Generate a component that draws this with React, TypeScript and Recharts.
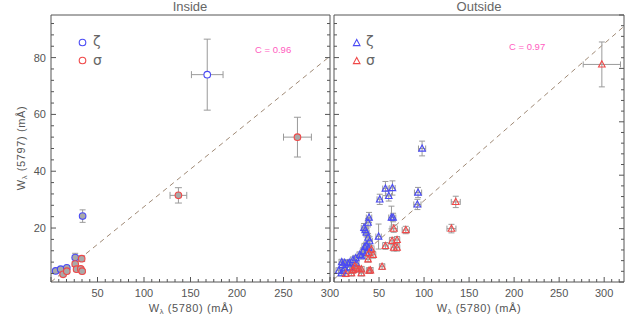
import React from 'react';
import { ScatterChart, Scatter, XAxis, YAxis, ErrorBar, ReferenceLine } from 'recharts';

const W = 637;
const H = 333;

// ---------- data ----------
const insideZeta = [
  { x: 5, y: 4.9, ex: 1, ey: 0.5 },
  { x: 10.4, y: 5.5, ex: 1, ey: 0.5 },
  { x: 17, y: 6.0, ex: 1, ey: 0.6 },
  { x: 26, y: 9.6, ex: 1.2, ey: 1.5 },
  { x: 34, y: 24.2, ex: 1.2, ey: 2.2 },
];
const insideZetaHollow = [{ x: 168, y: 74, ex: 17, ey: 12.5 }];
const insideSigma = [
  { x: 13, y: 3.7, ex: 1, ey: 0.5 },
  { x: 17, y: 4.8, ex: 1, ey: 0.5 },
  { x: 26, y: 7.3, ex: 1, ey: 0.8 },
  { x: 27.5, y: 5.5, ex: 1, ey: 0.6 },
  { x: 33, y: 9.2, ex: 1, ey: 1.0 },
  { x: 32, y: 5.6, ex: 1, ey: 0.6 },
  { x: 33.5, y: 4.8, ex: 1, ey: 0.5 },
  { x: 137, y: 31.5, ex: 9, ey: 2.7 },
  { x: 265, y: 52, ex: 15, ey: 7 },
];
const outsideZeta = [
  { x: 97.8, y: 48.0, ex: 4, ey: 2.6 },
  { x: 57.1, y: 33.9, ex: 3, ey: 2.5 },
  { x: 64.9, y: 34.1, ex: 3, ey: 2.5 },
  { x: 60.8, y: 31.3, ex: 3, ey: 1.8 },
  { x: 50.8, y: 30.1, ex: 3, ey: 1.8 },
  { x: 93.3, y: 32.5, ex: 4, ey: 1.8 },
  { x: 92.6, y: 28.3, ex: 4, ey: 1.8 },
  { x: 63.8, y: 23.7, ex: 3, ey: 4 },
  { x: 65.6, y: 23.7, ex: 3, ey: 1.5 },
  { x: 38.9, y: 23.7, ex: 3, ey: 1.8 },
  { x: 37.8, y: 21.9, ex: 3, ey: 1.5 },
  { x: 33.3, y: 20.1, ex: 3, ey: 1.5 },
  { x: 34.8, y: 19.3, ex: 3, ey: 1.5 },
  { x: 49.5, y: 17.0, ex: 3, ey: 4.4 },
  { x: 36, y: 18.4, ex: 3, ey: 1.5 },
  { x: 37.8, y: 16.6, ex: 3, ey: 1.5 },
  { x: 39.6, y: 15.4, ex: 3, ey: 1.5 },
  { x: 34.0, y: 13.4, ex: 3, ey: 1.2 },
  { x: 35.9, y: 13.9, ex: 3, ey: 1.2 },
  { x: 38.5, y: 13.0, ex: 3, ey: 1.2 },
  { x: 32.2, y: 11.8, ex: 3, ey: 1.2 },
  { x: 36, y: 11.3, ex: 3, ey: 1.2 },
  { x: 30.4, y: 10.1, ex: 3, ey: 1 },
  { x: 28.6, y: 10.6, ex: 3, ey: 1 },
  { x: 24.1, y: 9.4, ex: 3, ey: 1 },
  { x: 21.1, y: 8.8, ex: 3, ey: 1 },
  { x: 17.4, y: 7.8, ex: 3, ey: 1 },
  { x: 15.6, y: 7.6, ex: 3, ey: 1 },
  { x: 11.9, y: 7.8, ex: 3, ey: 1 },
  { x: 9.3, y: 7.0, ex: 3, ey: 1 },
  { x: 8.6, y: 8.0, ex: 3, ey: 1 },
  { x: 11.9, y: 5.9, ex: 3, ey: 1 },
  { x: 17.4, y: 6.2, ex: 3, ey: 1 },
  { x: 24.8, y: 7.6, ex: 3, ey: 1 },
  { x: 10, y: 4.9, ex: 3, ey: 1 },
  { x: 8.2, y: 4.1, ex: 3, ey: 1 },
  { x: 5.2, y: 5.0, ex: 3, ey: 1 },
];
const outsideSigma = [
  { x: 297.4, y: 77.6, ex: 20.7, ey: 7.9 },
  { x: 135.2, y: 29.2, ex: 5, ey: 2 },
  { x: 130.4, y: 19.8, ex: 5, ey: 1.5 },
  { x: 79.7, y: 19.3, ex: 4, ey: 1.3 },
  { x: 66.3, y: 19.8, ex: 4, ey: 1.3 },
  { x: 57.1, y: 13.7, ex: 3, ey: 1.2 },
  { x: 64.5, y: 15.5, ex: 3, ey: 1.2 },
  { x: 70.0, y: 15.8, ex: 3, ey: 1.2 },
  { x: 66.3, y: 13.1, ex: 3, ey: 1.2 },
  { x: 70.0, y: 13.1, ex: 3, ey: 1.2 },
  { x: 53.4, y: 6.4, ex: 3, ey: 1 },
  { x: 43.4, y: 10.6, ex: 3, ey: 1.2 },
  { x: 41.5, y: 12.5, ex: 3, ey: 1.2 },
  { x: 38.9, y: 11.3, ex: 3, ey: 1.2 },
  { x: 37.8, y: 9.0, ex: 3, ey: 1 },
  { x: 38.9, y: 5.0, ex: 3, ey: 1 },
  { x: 40.4, y: 5.1, ex: 3, ey: 1 },
  { x: 30.4, y: 4.1, ex: 3, ey: 1 },
  { x: 30.4, y: 5.5, ex: 3, ey: 1 },
  { x: 24.8, y: 5.9, ex: 3, ey: 1 },
  { x: 23, y: 6.6, ex: 3, ey: 1 },
  { x: 21.1, y: 5.3, ex: 3, ey: 1 },
  { x: 20.5, y: 5.1, ex: 3, ey: 1 },
  { x: 19.3, y: 4.1, ex: 3, ey: 1 },
  { x: 13.0, y: 3.9, ex: 3, ey: 1 },
  { x: 27.7, y: 5.5, ex: 3, ey: 1 },
];
const insideFit = [{ x: 0, y: 1 }, { x: 300, y: 80.5 }];
const outsideFit = [{ x: 0, y: 2 }, { x: 322, y: 91 }];

const xDomainInside: [number, number] = [0, 300];
const xDomainOutside: [number, number] = [0, 322];
const yDomain: [number, number] = [1, 95];
const altYDomain: [number, number] = [0, 100];

const titles = ['Inside', 'Outside'];
const corr = ['C = 0.96', 'C = 0.97'];
const seriesNames = ['\u03B6', '\u03C3'];

// ---------- styles ----------
const AX = '#555';
const TXT = '#555';
const BLUE = '#4a4af5';
const RED = '#f04848';
const GRAYFILL = '#a9a9a9';
const ERR = '#9a9a9a';
const FIT = '#a08a76';
const PINK = '#ff5cc0';
const FONT = '"Liberation Sans", Arial, sans-serif';

const makeTicks = (lo: number, hi: number, step: number) => {
  const out: number[] = [];
  for (let i = 0; ; i++) {
    const v = i * step;
    if (v > hi + 1e-9) break;
    if (v >= lo - 1e-9) out.push(+v.toFixed(6));
  }
  return out;
};
const isMult = (v: number, m: number) => Math.abs(v / m - Math.round(v / m)) < 1e-4;

const xTicksIn = makeTicks(0, 300, 50 / 6);
const xTicksOut = makeTicks(0, 322, 50 / 6);
const yTicks = makeTicks(1, 95, 4);
const altTicks = makeTicks(0, 100, 4);

const xTick = (side: 'bottom' | 'top', labels: boolean) => (p: any) => {
  const { x, y, payload } = p;
  const v = payload.value;
  const major = isMult(v, 50);
  const len = major ? 5 : 3;
  const d = side === 'bottom' ? -1 : 1;
  return (
    <g>
      <line x1={x} x2={x} y1={y} y2={y + d * len} stroke={AX} strokeWidth={1} />
      {labels && major && v > 0 ? (
        <text x={x} y={y + 15} textAnchor="middle" fontSize={11} fill={TXT} fontFamily={FONT}>
          {Math.round(v)}
        </text>
      ) : null}
    </g>
  );
};

const yTick = (side: 'left' | 'right', labels: boolean, majorStep: number) => (p: any) => {
  const { x, y, payload } = p;
  const v = payload.value;
  const major = isMult(v, majorStep);
  const len = major ? 5 : 3;
  const d = side === 'left' ? 1 : -1;
  return (
    <g>
      <line x1={x} x2={x + d * len} y1={y} y2={y} stroke={AX} strokeWidth={1} />
      {labels && major ? (
        <text x={x - 5} y={y + 4} textAnchor="end" fontSize={11} fill={TXT} fontFamily={FONT}>
          {Math.round(v)}
        </text>
      ) : null}
    </g>
  );
};

const circleShape = (stroke: string, fill: string) => (p: any) => (
  <circle cx={p.cx} cy={p.cy} r={3.3} fill={fill} stroke={stroke} strokeWidth={1.1} />
);
const triPts = (cx: number, cy: number) =>
  `${cx},${cy - 3.6} ${cx - 3.3},${cy + 2.6} ${cx + 3.3},${cy + 2.6}`;
const triShape = (stroke: string) => (p: any) => (
  <polygon points={triPts(p.cx, p.cy)} fill="none" stroke={stroke} strokeWidth={1.1} />
);

const errs = (cap: number) => [
  <ErrorBar key="ex" dataKey="ex" direction="x" width={cap} stroke={ERR} strokeWidth={1} isAnimationActive={false} />,
  <ErrorBar key="ey" dataKey="ey" direction="y" width={cap} stroke={ERR} strokeWidth={1} isAnimationActive={false} />,
];

const axisLine = { stroke: AX, strokeWidth: 1 };

type PanelProps = {
  left: number;
  right: number;
  xDomain: [number, number];
  xTicks: number[];
  yLabels: boolean;
  rightAlt: boolean;
  fit: { x: number; y: number }[];
  children: React.ReactNode;
};

// plot area: top 15, bottom 282; axes are 1px thick so margins are reduced by 1
function Panel({ left, right, xDomain, xTicks, yLabels, rightAlt, fit, children }: PanelProps) {
  return (
    <div style={{ position: 'absolute', left: 0, top: 0 }}>
      <ScatterChart width={W} height={H} margin={{ top: 14, left: left - 1, right: right - 1, bottom: 50 }}>
        <XAxis
          xAxisId="b" type="number" dataKey="x" domain={xDomain} allowDataOverflow ticks={xTicks}
          interval={0} height={1} tickSize={0} tickMargin={0} axisLine={axisLine} tickLine={false}
          tick={xTick('bottom', true)}
        />
        <XAxis
          xAxisId="t" orientation="top" type="number" domain={xDomain} allowDataOverflow ticks={xTicks}
          interval={0} height={1} tickSize={0} tickMargin={0} axisLine={axisLine} tickLine={false}
          tick={xTick('top', false)}
        />
        <YAxis
          yAxisId="l" type="number" dataKey="y" domain={yDomain} allowDataOverflow ticks={yTicks}
          interval={0} width={1} tickSize={0} tickMargin={0} axisLine={axisLine} tickLine={false}
          tick={yTick('left', yLabels, 20)}
        />
        <YAxis
          yAxisId="r" orientation="right" type="number" domain={rightAlt ? altYDomain : yDomain} allowDataOverflow
          ticks={rightAlt ? altTicks : yTicks} interval={0} width={1} tickSize={0} tickMargin={0}
          axisLine={axisLine} tickLine={false} tick={yTick('right', false, 20)}
        />
        <ReferenceLine
          xAxisId="b" yAxisId="l" segment={fit} stroke={FIT} strokeWidth={1} strokeDasharray="5 4" ifOverflow="visible"
        />
        {children}
      </ScatterChart>
    </div>
  );
}

const axisTitle = (x: number, y: number, code: string, rotate: boolean) => (
  <text
    x={0}
    y={0}
    transform={`translate(${x},${y})${rotate ? ' rotate(-90)' : ''}`}
    textAnchor="middle"
    fontSize={11}
    letterSpacing={0.6}
    fill={TXT}
  >
    W<tspan fontSize={7.5} dy={2}>{'\u03BB'}</tspan>
    <tspan dy={-2}>{` (${code}) (mÅ)`}</tspan>
  </text>
);

export default function App() {
  return (
    <div style={{ position: 'absolute', left: 0, top: 0, width: W, height: H, background: '#fff', overflow: 'hidden' }}>
      <Panel left={51} right={W - 330} xDomain={xDomainInside} xTicks={xTicksIn} yLabels rightAlt={false} fit={insideFit}>
        <Scatter xAxisId="b" yAxisId="l" data={insideZeta} shape={circleShape(BLUE, GRAYFILL)} isAnimationActive={false}>
          {errs(3)}
        </Scatter>
        <Scatter xAxisId="b" yAxisId="l" data={insideZetaHollow} shape={circleShape(BLUE, '#fff')} isAnimationActive={false}>
          {errs(3.5)}
        </Scatter>
        <Scatter xAxisId="b" yAxisId="l" data={insideSigma} shape={circleShape(RED, GRAYFILL)} isAnimationActive={false}>
          {errs(3.5)}
        </Scatter>
      </Panel>
      <Panel left={334} right={W - 624} xDomain={xDomainOutside} xTicks={xTicksOut} yLabels={false} rightAlt fit={outsideFit}>
        <Scatter xAxisId="b" yAxisId="l" data={outsideZeta} shape={triShape(BLUE)} isAnimationActive={false}>
          {errs(3)}
        </Scatter>
        <Scatter xAxisId="b" yAxisId="l" data={outsideSigma} shape={triShape(RED)} isAnimationActive={false}>
          {errs(3)}
        </Scatter>
      </Panel>
      <svg width={W} height={H} style={{ position: 'absolute', left: 0, top: 0, pointerEvents: 'none' }} fontFamily={FONT}>
        <text x={190} y={11} textAnchor="middle" fontSize={13} fill="#666">{titles[0]}</text>
        <text x={479} y={11} textAnchor="middle" fontSize={13} fill="#666">{titles[1]}</text>
        {axisTitle(191, 312, '5780', false)}
        {axisTitle(479, 312, '5780', false)}
        {axisTitle(25, 148, '5797', true)}
        <text x={255} y={53} fontSize={9.5} fill={PINK}>{corr[0]}</text>
        <text x={509} y={50} fontSize={9.5} fill={PINK}>{corr[1]}</text>
        <circle cx={82.5} cy={42.5} r={3.3} fill="none" stroke={BLUE} strokeWidth={1.1} />
        <circle cx={82.5} cy={60.5} r={3.3} fill="none" stroke={RED} strokeWidth={1.1} />
        <text x={93} y={46} fontSize={14} fill="#666" fontFamily="DejaVu Sans">{seriesNames[0]}</text>
        <text x={93} y={65} fontSize={14} fill="#666" fontFamily="DejaVu Sans">{seriesNames[1]}</text>
        <polygon points={triPts(356.7, 43)} fill="none" stroke={BLUE} strokeWidth={1.1} />
        <polygon points={triPts(356.7, 61)} fill="none" stroke={RED} strokeWidth={1.1} />
        <text x={366} y={46} fontSize={14} fill="#666" fontFamily="DejaVu Sans">{seriesNames[0]}</text>
        <text x={366} y={65} fontSize={14} fill="#666" fontFamily="DejaVu Sans">{seriesNames[1]}</text>
      </svg>
    </div>
  );
}
